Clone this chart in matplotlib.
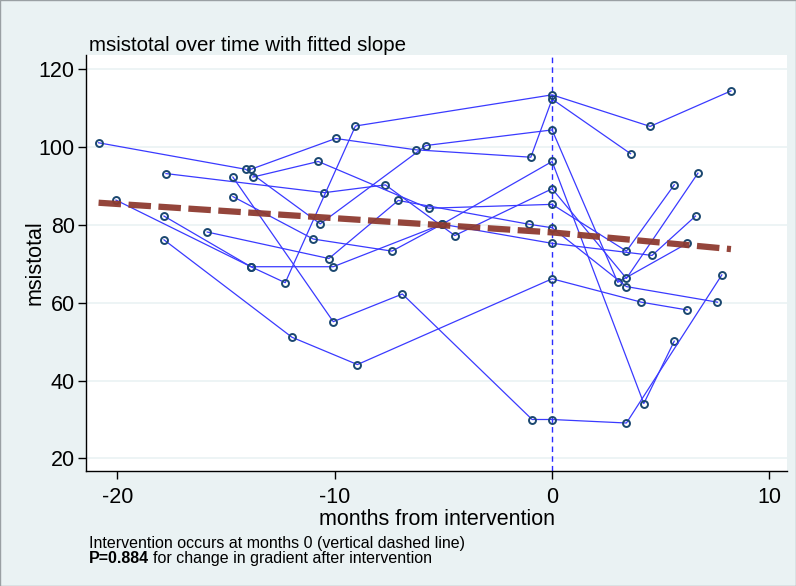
import matplotlib
matplotlib.use("Agg")
import matplotlib.pyplot as plt
from matplotlib.patches import Rectangle

# Per-subject visits: months from intervention and msistotal score
subj_a_months = [-20.87, -14.1, -10.67, -5.80, 0, 3.02, 6.22]
subj_a_score = [101.0, 94.2, 80.2, 100.3, 104.3, 65.2, 75.2]

subj_b_months = [-13.86, -9.96, -6.28, -0.98, 0, 3.61]
subj_b_score = [94.2, 102.1, 99.2, 97.3, 112.2, 98.2]

subj_c_months = [-17.77, -10.48, -7.67, -4.48, 0, 3.42, 6.71]
subj_c_score = [93.1, 88.2, 90.2, 77.2, 89.2, 66.2, 93.2]

subj_d_months = [-20.07, -13.86, -12.28, -9.05, 0, 4.51, 8.23]
subj_d_score = [86.3, 69.2, 65.1, 105.3, 113.3, 105.2, 114.3]

subj_e_months = [-17.86, -13.86, -10.07, -5.06, 0, 4.22, 5.62]
subj_e_score = [82.2, 69.2, 69.2, 80.1, 96.2, 34.1, 50.1]

subj_f_months = [-14.69, -10.07, -6.89, -0.92, 0, 3.42, 7.81]
subj_f_score = [92.2, 55.1, 62.2, 30.0, 30.0, 29.1, 67.1]

subj_g_months = [-17.86, -11.97, -8.96, 0, 4.11, 6.22]
subj_g_score = [76.1, 51.1, 44.1, 66.1, 60.1, 58.1]

subj_h_months = [-13.77, -10.76, -5.68, 0, 3.42, 5.62]
subj_h_score = [92.2, 96.2, 84.2, 85.2, 73.2, 90.2]

subj_i_months = [-14.69, -10.99, -7.37, -5.06, 0, 4.60, 6.60]
subj_i_score = [87.2, 76.3, 73.2, 80.1, 75.2, 72.1, 82.2]

subj_j_months = [-15.87, -10.27, -7.08, -1.07, 0, 3.42, 7.61]
subj_j_score = [78.1, 71.3, 86.2, 80.1, 79.2, 64.1, 60.1]

subjects = [
    (subj_a_months, subj_a_score), (subj_b_months, subj_b_score),
    (subj_c_months, subj_c_score), (subj_d_months, subj_d_score),
    (subj_e_months, subj_e_score), (subj_f_months, subj_f_score),
    (subj_g_months, subj_g_score), (subj_h_months, subj_h_score),
    (subj_i_months, subj_i_score), (subj_j_months, subj_j_score),
]

# Fitted segmented trend: value at intervention and slopes before/after
fit_start, fit_end = -20.87, 8.23
fit_at_zero = 78.0
slope_pre = -0.365
slope_post = -0.52

x_ticks = [-20, -10, 0, 10]
y_ticks = [20, 40, 60, 80, 100, 120]

plt.rcParams["axes.unicode_minus"] = False

bg = "#EAF2F3"
line_blue = "#3a3aff"
marker_navy = "#1A476F"
fit_red = "#8E3B30"
font = ["Liberation Sans", "DejaVu Sans"]

fig = plt.figure(figsize=(7.96, 5.86), dpi=100, facecolor=bg)
ax = fig.add_axes([0.108, 0.197, 0.881, 0.709])
ax.set_facecolor("white")

ax.set_xlim(-21.45, 10.82)
ax.set_ylim(16.9, 123.5)

for yt in y_ticks:
    ax.axhline(yt, color=bg, lw=1.2, zorder=0)

ax.axvline(0, color="#2b2bff", lw=1.0, ls=(0, (4, 3)), zorder=1)

for mx, my in subjects:
    ax.plot(mx, my, color=line_blue, lw=0.9, zorder=2,
            marker="o", markersize=5, markerfacecolor="none",
            markeredgecolor=marker_navy, markeredgewidth=1.4)

fx_pre = [fit_start, 0]
fy_pre = [fit_at_zero + slope_pre * fit_start, fit_at_zero]
fx_post = [0, fit_end]
fy_post = [fit_at_zero, fit_at_zero + slope_post * fit_end]
ax.plot(fx_pre + fx_post[1:], fy_pre + fy_post[1:], color=fit_red, lw=4.5,
        ls=(0, (3.6, 1.2)), alpha=0.95, zorder=3, solid_capstyle="butt",
        dash_capstyle="butt")

for side in ("top", "right"):
    ax.spines[side].set_visible(False)
for side in ("left", "bottom"):
    ax.spines[side].set_color("black")
    ax.spines[side].set_linewidth(1.0)

ax.set_xticks(x_ticks)
ax.set_yticks(y_ticks)
ax.tick_params(axis="both", direction="out", length=6, width=1.0,
               labelsize=15.5, color="black")
ax.tick_params(axis="x", pad=6)
ax.tick_params(axis="y", pad=2)
for lab in ax.get_xticklabels() + ax.get_yticklabels():
    lab.set_fontfamily(font)

ax.set_xlabel("months from intervention", fontsize=15.5, family=font)
ax.xaxis.set_label_coords(0.5, -0.092)
ax.set_ylabel("msistotal", fontsize=15.5, family=font)
ax.yaxis.set_label_coords(-0.058, 0.5)

fig.text(0.112, 1 - 51 / 586, "msistotal over time with fitted slope",
         fontsize=14.8, family=font, ha="left", va="baseline")

fig.text(0.112, 1 - 548 / 586,
         "Intervention occurs at months 0 (vertical dashed line)",
         fontsize=11.5, family=font, ha="left", va="baseline")
bold = fig.text(0.112, 1 - 563 / 586, "P=0.884", fontsize=11.5, family=font,
                weight="bold", ha="left", va="baseline")
fig.canvas.draw()
bb = bold.get_window_extent(renderer=fig.canvas.get_renderer())
x_after = (bb.x1 + 4) / fig.bbox.width
fig.text(x_after, 1 - 563 / 586, "for change in gradient after intervention",
         fontsize=11.5, family=font, ha="left", va="baseline")

fig.patches.append(Rectangle((0, 0), 1, 1, transform=fig.transFigure,
                             fill=False, edgecolor="#9aa0a3", lw=1.0))

fig.savefig("out.png", dpi=100, facecolor=bg)
